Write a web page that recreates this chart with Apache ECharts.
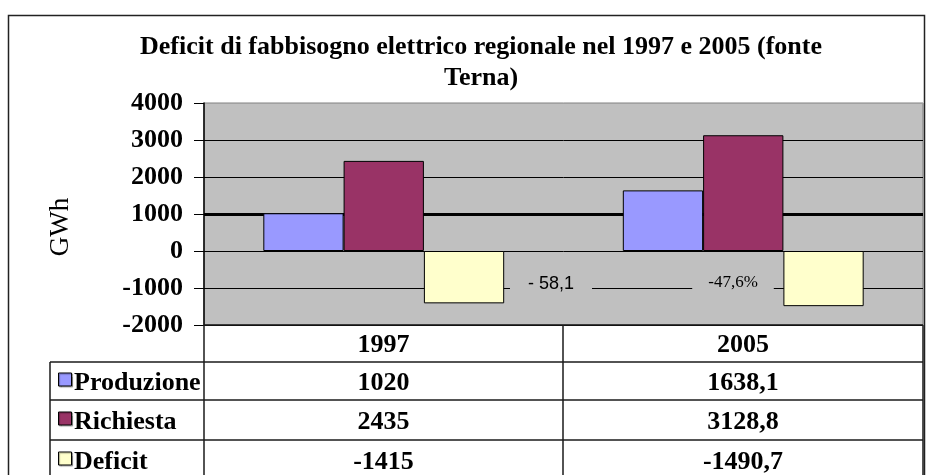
<!DOCTYPE html>
<html>
<head>
<meta charset="utf-8">
<script src="https://cdn.jsdelivr.net/npm/echarts@6/dist/echarts.min.js"></script>
<style>
  html, body { margin: 0; padding: 0; background: #fff; }
  #chart { width: 931px; height: 475px; }
</style>
</head>
<body>
<div id="chart"></div>
<script>
// dati (fonte Terna)
const categories = ['1997', '2005']
const produzione = [1020, 1638.1]
const richiesta = [2435, 3128.8]
const deficit = [-1415, -1490.7]
const seriesNames = ['Produzione', 'Richiesta', 'Deficit']
const seriesColors = ['#9999FF', '#993366', '#FFFFCC']
const deltaLabels = ['- 58,1', '-47,6%']
const yMin = -2000
const yMax = 4000
const yStep = 1000
const highlightLine = 1000

const serif = '"Liberation Serif", "Times New Roman", serif'
const fmt = v => String(v).replace('.', ',')

const chart = echarts.init(document.getElementById('chart'))

// grid
const gLeft = 204
const gRight = 923
const gTop = 103
const gBottom = 325

const seriesData = [produzione, richiesta, deficit]

chart.setOption({
  backgroundColor: '#fff',
  animation: false,
  grid: {
    left: gLeft,
    right: 931 - gRight,
    top: gTop,
    bottom: 475 - gBottom,
    show: true,
    backgroundColor: '#c0c0c0',
    borderColor: '#808080',
    borderWidth: 1
  },
  xAxis: {
    type: 'category',
    data: categories,
    axisLabel: { show: false },
    axisTick: { show: false },
    axisLine: { show: false },
    splitLine: { show: false }
  },
  yAxis: {
    type: 'value',
    min: yMin,
    max: yMax,
    interval: yStep,
    axisLine: { show: true, onZero: false, lineStyle: { color: '#000', width: 1.5 } },
    axisTick: { show: true, length: 10, lineStyle: { color: '#000', width: 1 } },
    axisLabel: {
      margin: 21,
      color: '#000',
      fontFamily: serif,
      fontWeight: 'bold',
      fontSize: 26,
      formatter: v => String(v)
    },
    splitLine: {
      show: true,
      lineStyle: {
        color: ['#000', '#000', '#000', '#000', '#000', '#000', '#a0a0a0'],
        width: 1
      }
    }
  },
  series: seriesNames.map((name, i) => ({
    name: name,
    type: 'bar',
    data: seriesData[i],
    barGap: '0%',
    barCategoryGap: '33%',
    itemStyle: {
      color: seriesColors[i],
      borderColor: '#000',
      borderWidth: 1
    },
    markLine: i === 0 ? {
      z: 1,
      silent: true,
      symbol: 'none',
      label: { show: false },
      lineStyle: { color: '#000', width: 3, type: 'solid' },
      data: [{ yAxis: highlightLine }]
    } : undefined
  }))
})

// tabella dati sotto il grafico
const rowLines = [325, 362, 400, 440, 478]
const rowText = [345, 383, 422, 462]
const colLines = [gLeft, 563, gRight]
const legendLeft = 50
const lineStyle = { stroke: '#1a1a1a', lineWidth: 1.5 }

const elements = []

// cornice esterna
elements.push({
  type: 'rect',
  z: 20,
  shape: { x: 8.5, y: 15.5, width: 916, height: 470 },
  style: { fill: 'none', stroke: '#222', lineWidth: 1.5 }
})

// titolo
elements.push({
  type: 'text',
  z: 20,
  x: 481,
  y: 32,
  style: {
    text: 'Deficit di fabbisogno elettrico regionale nel 1997 e 2005 (fonte\nTerna)',
    align: 'center',
    verticalAlign: 'top',
    font: 'bold 26px ' + serif,
    lineHeight: 31,
    fill: '#000'
  }
})

// nome asse
elements.push({
  type: 'text',
  z: 20,
  x: 61,
  y: 227,
  rotation: Math.PI / 2,
  style: {
    text: 'GWh',
    align: 'center',
    verticalAlign: 'middle',
    font: '27px ' + serif,
    fill: '#000'
  }
})

// etichette delle differenze
const deltaPos = [[551, 284, 18], [733, 283, 16]]
deltaLabels.forEach((t, i) => {
  elements.push({
    type: 'text',
    z: 20,
    x: deltaPos[i][0],
    y: deltaPos[i][1],
    style: {
      text: t,
      align: 'center',
      verticalAlign: 'middle',
      font: i === 0 ? '18px "Liberation Sans", Arial, sans-serif' : '17px ' + serif,
      fill: '#000',
      backgroundColor: '#c0c0c0',
      padding: [4, deltaPos[i][2]]
    }
  })
})

// linee orizzontali
rowLines.forEach((y, i) => {
  if (i === 0) return
  elements.push({
    type: 'line',
    z: 20,
    shape: { x1: legendLeft, y1: y, x2: gRight, y2: y },
    style: lineStyle
  })
})
elements.push({
  type: 'line',
  z: 20,
  shape: { x1: gLeft, y1: rowLines[0], x2: gRight, y2: rowLines[0] },
  style: lineStyle
})
// linee verticali
colLines.forEach(x => {
  elements.push({
    type: 'line',
    z: 20,
    shape: { x1: x, y1: rowLines[0], x2: x, y2: 478 },
    style: lineStyle
  })
})
elements.push({
  type: 'line',
  z: 20,
  shape: { x1: legendLeft, y1: rowLines[1], x2: legendLeft, y2: 478 },
  style: lineStyle
})

// intestazioni colonne e valori
categories.forEach((c, j) => {
  const cx = (colLines[j] + colLines[j + 1]) / 2
  elements.push({
    type: 'text',
    z: 20,
    x: cx,
    y: rowText[0],
    style: { text: c, align: 'center', verticalAlign: 'middle', font: 'bold 26px ' + serif, fill: '#000' }
  })
  seriesData.forEach((arr, i) => {
    elements.push({
      type: 'text',
      z: 20,
      x: cx,
      y: rowText[i + 1],
      style: { text: fmt(arr[j]), align: 'center', verticalAlign: 'middle', font: 'bold 26px ' + serif, fill: '#000' }
    })
  })
})

// legenda nella tabella
seriesNames.forEach((name, i) => {
  const cy = rowText[i + 1] - 3
  elements.push({
    type: 'rect',
    z: 20,
    shape: { x: 58.5, y: cy - 7, width: 13, height: 13 },
    style: {
      fill: seriesColors[i],
      stroke: '#000',
      lineWidth: 1,
      shadowColor: 'rgba(0,0,0,0.35)',
      shadowOffsetX: 1,
      shadowOffsetY: 1,
      shadowBlur: 1
    }
  })
  elements.push({
    type: 'text',
    z: 20,
    x: 74,
    y: rowText[i + 1],
    style: { text: name, align: 'left', verticalAlign: 'middle', font: 'bold 26px ' + serif, fill: '#000' }
  })
})

chart.setOption({ graphic: { elements: elements } })
</script>
</body>
</html>
